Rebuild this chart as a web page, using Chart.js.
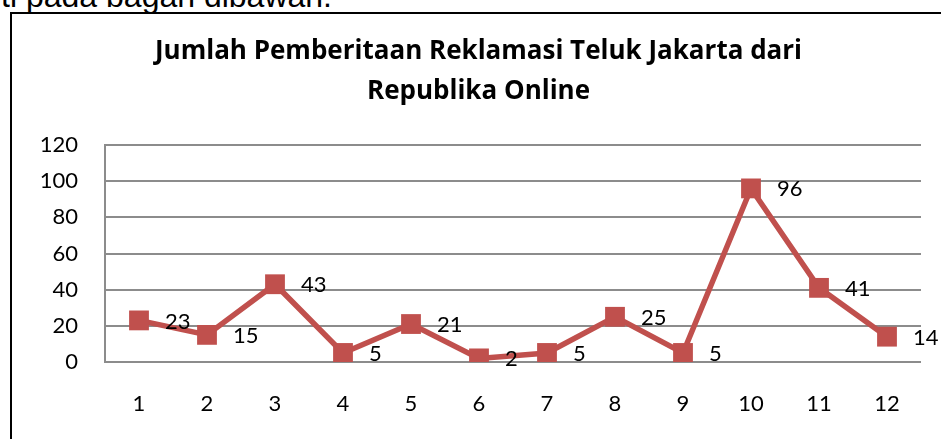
<!DOCTYPE html>
<html>
<head>
<meta charset="utf-8">
<script src="https://cdn.jsdelivr.net/npm/chart.js@4"></script>
<style>
  html, body { margin: 0; padding: 0; background: #fff; overflow: hidden; }
  #wrap { position: relative; width: 941px; height: 439px; overflow: hidden; }
  #intro {
    position: absolute; right: 609px; top: -22px; text-align: right;
    white-space: nowrap; font-family: "Liberation Sans", Arial, sans-serif; font-size: 32px; color: #000;
  }
  #frame {
    position: absolute; left: 10px; top: 12px; width: 960px; height: 460px;
    border: 2px solid #000; box-sizing: border-box;
  }
  canvas { position: absolute; left: 0; top: 0; }
</style>
</head>
<body>
<div id="wrap">
  <div id="intro">seperti pada bagan dibawah.</div>
  <div id="frame"></div>
  <canvas id="chart" width="941" height="439"></canvas>
</div>
<script>
// data
const categories = ['1', '2', '3', '4', '5', '6', '7', '8', '9', '10', '11', '12'];
const jumlahBerita = [23, 15, 43, 5, 21, 2, 5, 25, 5, 96, 41, 14];
const yTicks = [0, 20, 40, 60, 80, 100, 120];
const chartTitle = ['Jumlah Pemberitaan Reklamasi Teluk Jakarta dari', 'Republika Online'];

const merah = '#C0504D';
const abu = '#8C8C8C';
const fontName = 'Lato, "Liberation Sans", sans-serif';

// popisky hodnot vpravo od bodu
const valueLabels = {
    id: 'valueLabels',
    afterDatasetsDraw(chart) {
        const ctx = chart.ctx;
        const meta = chart.getDatasetMeta(0);
        ctx.save();
        ctx.font = '22px ' + fontName;
        ctx.fillStyle = '#000';
        ctx.textAlign = 'left';
        ctx.textBaseline = 'middle';
        meta.data.forEach((pt, i) => {
            ctx.fillText(String(jumlahBerita[i]), pt.x + 26, pt.y + 1);
        });
        ctx.restore();
    }
};

const chart = new Chart(document.getElementById('chart'), {
    type: 'line',
    data: {
        labels: categories,
        datasets: [{
            label: 'Jumlah',
            data: jumlahBerita,
            borderColor: merah,
            backgroundColor: merah,
            borderWidth: 5.5,
            pointStyle: 'rect',
            pointRadius: 14,
            pointBorderWidth: 0,
            pointBackgroundColor: merah,
            tension: 0
        }]
    },
    options: {
        responsive: false,
        animation: false,
        layout: {
            padding: { left: 36, right: 20, top: 0, bottom: 0 }
        },
        plugins: {
            legend: { display: false },
            tooltip: { enabled: false },
            title: {
                display: true,
                text: chartTitle,
                color: '#000',
                font: { family: '"Open Sans", sans-serif', size: 26, weight: 'bold', lineHeight: 40 / 26 },
                padding: { top: 32, bottom: 33 }
            }
        },
        scales: {
            x: {
                offset: true,
                grid: { display: false, drawTicks: false },
                border: { display: false },
                ticks: {
                    color: '#000',
                    font: { family: fontName, size: 22 },
                    padding: 29,
                    maxRotation: 0
                },
                afterFit: (scale) => { scale.height = 77; }
            },
            y: {
                min: 0,
                max: 120,
                afterBuildTicks: (scale) => { scale.ticks = yTicks.map(v => ({ value: v })); },
                grid: { color: abu, lineWidth: 2, drawTicks: false },
                border: { display: true, color: abu, width: 2 },
                ticks: {
                    color: '#000',
                    font: { family: fontName, size: 22 },
                    padding: 27
                },
                afterFit: (scale) => { scale.width = 69; }
            }
        }
    },
    plugins: [valueLabels]
});
</script>
</body>
</html>
